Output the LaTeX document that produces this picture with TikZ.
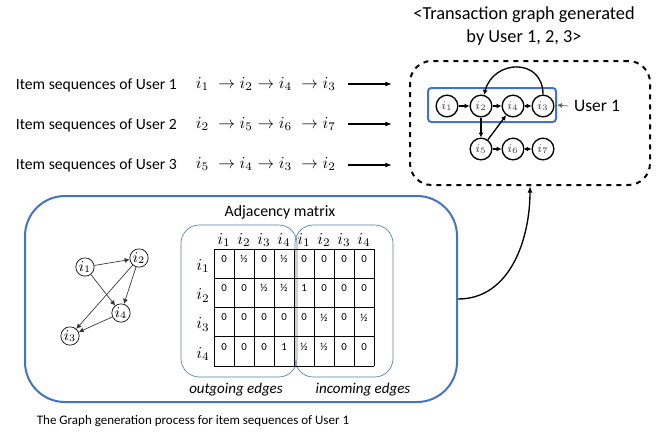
\documentclass[tikz,border=0pt]{standalone}
\usepackage{fontspec}
\setmainfont{Carlito}
\usetikzlibrary{arrows.meta}
\definecolor{boxblue}{RGB}{68,114,196}
\definecolor{edgeblue}{RGB}{84,126,168}

\begin{document}
\begin{tikzpicture}[x=0.6pt,y=-0.6pt,
        item node/.style={circle,draw,thick,inner sep=0pt,minimum size=13pt,font=\scriptsize,text=black!75},
        small node/.style={circle,draw,inner sep=0pt,minimum size=11pt,font=\small},
        seq text/.style={anchor=west,font=\fontsize{9.4}{11}\selectfont},
        cell value/.style={font=\fontsize{6.5}{7}\selectfont},
        group box/.style={draw=edgeblue,rounded corners=11pt,minimum width=69.6pt,minimum height=91.2pt}]
    \useasboundingbox (0,0) rectangle (662,431);

    % transaction graph
    \node[align=center,font=\fontsize{11}{13.5}\selectfont] (title) at (524,26) {<Transaction graph generated\\by User 1, 2, 3>};
    \node[draw,dashed,line width=1.2pt,rounded corners=13pt,minimum width=144pt,minimum height=74.4pt] (trans box) at (530,123) {};
    \node[draw=boxblue,line width=1.2pt,rounded corners=2pt,minimum width=76.8pt,minimum height=20.4pt] (user box) at (492,105) {};
    \node[item node] (t1) at (447,106) {$i_1$};
    \node[item node] (t2) at (481,106) {$i_2$};
    \node[item node] (t4) at (513,106) {$i_4$};
    \node[item node] (t3) at (543,106) {$i_3$};
    \node[item node] (t5) at (481,149) {$i_5$};
    \node[item node] (t6) at (513,149) {$i_6$};
    \node[item node] (t7) at (543,149) {$i_7$};
    \node[font=\fontsize{10.5}{12}\selectfont] (user1) at (597,106) {User 1};

    \path[-{Latex[length=3pt,width=3pt]},thick]
        (t1) edge (t2)
        (t2) edge (t4)
        (t4) edge (t3)
        (t3) edge[out=90,in=75,looseness=1.6] (t2)
        (t2) edge (t5)
        (t5) edge (t4)
        (t5) edge (t6)
        (t6) edge (t7);
    \draw[-{Latex[length=3pt,width=3pt]},black!60] (user1.west) -- (user box.east);

    % item sequences
    \node[seq text] (s1) at (10,85) {Item sequences of User 1};
    \node[seq text] (s2) at (10,125) {Item sequences of User 2};
    \node[seq text] (s3) at (10,165) {Item sequences of User 3};
    \node[anchor=west] (q1) at (190,84) {$i_1 \;\rightarrow i_2 \rightarrow i_4 \;\rightarrow i_3$};
    \node[anchor=west] (q2) at (190,124) {$i_2 \;\rightarrow i_5 \rightarrow i_6 \;\rightarrow i_7$};
    \node[anchor=west] (q3) at (190,164) {$i_5 \;\rightarrow i_4 \rightarrow i_3 \;\rightarrow i_2$};
    \coordinate (a1) at (392,84);
    \coordinate (a2) at (392,124);
    \coordinate (a3) at (392,165);
    \draw[-{Latex[length=4pt]},line width=1.6pt] (348,84) -- (a1);
    \draw[-{Latex[length=4pt]},line width=1.6pt] (348,124) -- (a2);
    \draw[-{Latex[length=4pt]},line width=1.6pt] (348,165) -- (a3);

    % graph generation process
    \node[draw=boxblue,line width=1.2pt,rounded corners=24pt,minimum width=259.2pt,minimum height=123.6pt] (proc box) at (241,299) {};
    \node[font=\fontsize{7.8}{9}\selectfont] (caption) at (193,421) {The Graph generation process for item sequences of User 1};
    \draw[-{Latex[length=4pt]},thick] (proc box.east) to[out=0,in=-90] (trans box.south);

    \node[small node] (g1) at (85,267) {$i_1$};
    \node[small node] (g2) at (139,258) {$i_2$};
    \node[small node] (g4) at (121,313) {$i_4$};
    \node[small node] (g3) at (70,336) {$i_3$};
    \path[-{Latex[length=3pt,width=3pt]},black!80]
        (g1) edge (g2)
        (g1) edge (g4)
        (g2) edge (g4)
        (g2) edge (g3)
        (g4) edge (g3);

    \node[font=\fontsize{9.5}{11}\selectfont] (adj) at (280,212) {Adjacency matrix};
    \node[group box] (out box) at (239,301) {};
    \node[group box,minimum width=58.8pt] (in box) at (344,301) {};
    \node[font=\itshape\fontsize{9}{11}\selectfont] (out label) at (236,390) {outgoing edges};
    \node[font=\itshape\fontsize{9}{11}\selectfont] (in label) at (363,390) {incoming edges};

    \foreach \c in {0,...,8}
        \draw (214+20*\c,249) -- (214+20*\c,366);
    \foreach \r in {0,...,4}
        \draw (214,249+29.25*\r) -- (374,249+29.25*\r);
    \foreach \k [count=\c from 0] in {1,2,3,4,1,2,3,4}
        \node (col-\c) at (224+20*\c,240) {$i_\k$};
    \foreach \k [count=\r from 0] in {1,2,3,4}
        \node (row-\r) at (203,266+29.25*\r) {$i_\k$};
    \foreach \vals [count=\r from 0] in {{0,½,0,½,0,0,0,0},{0,0,½,½,1,0,0,0},{0,0,0,0,0,½,0,½},{0,0,0,1,½,½,0,0}}
        \foreach \v [count=\c from 0] in \vals
            \node[cell value] (m-\r-\c) at (224+20*\c,259+29.25*\r) {\v};
\end{tikzpicture}
\end{document}
